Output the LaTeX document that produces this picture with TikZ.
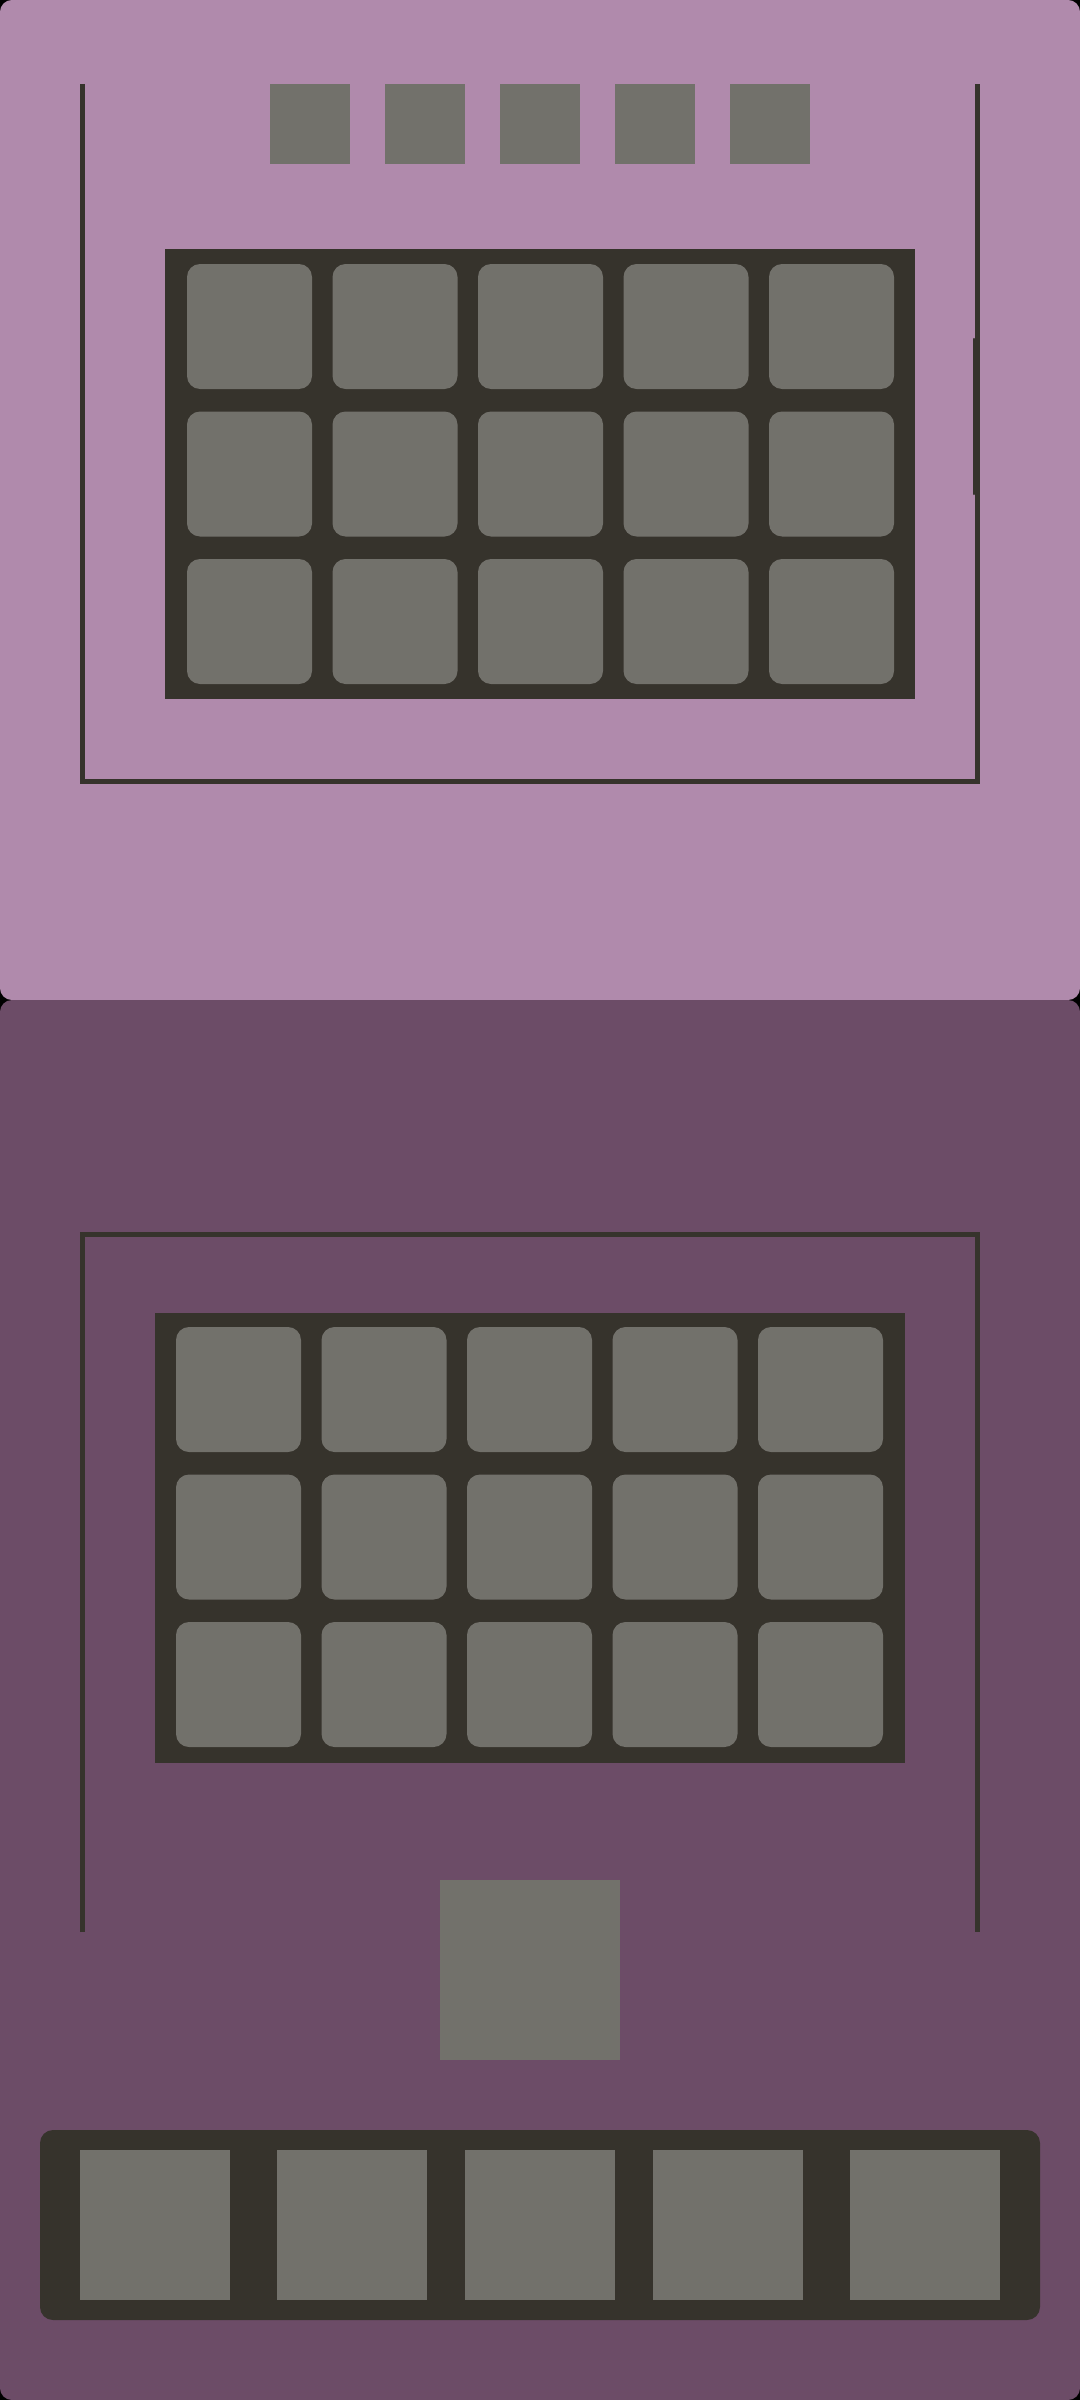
\documentclass[tikz,border=0pt]{standalone}
\usetikzlibrary{positioning}
\definecolor{PanelLight}{HTML}{B08AAC}
\definecolor{PanelDark}{HTML}{6C4C67}
\definecolor{TrayDark}{HTML}{36332C}
\definecolor{TileGray}{HTML}{72716B}
\tikzset{
  panel/.style={rounded corners=3.4pt},
  tray/.style={fill=TrayDark},
  tile/.style={fill=TileGray, rounded corners=3.7pt},
  slot/.style={fill=TileGray},
  frame/.style={draw=TrayDark, line width=1.42pt}
}
\begin{document}
\begin{tikzpicture}[x=0.01cm,y=-0.01cm]
\useasboundingbox (0,0) rectangle (1080,2400);
\fill[black] (0,0) rectangle (1080,2400);

% upper panel
\fill[PanelLight, panel] (0,0) rectangle (1080,1000);
\draw[frame] (82.5,84) -- (82.5,781.5) -- (977.5,781.5) -- (977.5,84);
\draw[TrayDark, line width=0.6pt, line cap=round] (974,339) -- (974,494);
\foreach \c in {0,...,4}
  \fill[slot] ({270+115*\c},84) rectangle +(80,80);
\fill[tray] (165,249) rectangle (915,699);
\foreach \r in {0,1,2}
  \foreach \c in {0,...,4}
    \fill[tile] ({187+145.5*\c},{264+147.5*\r}) rectangle +(125,125);

% lower panel
\fill[PanelDark, panel] (0,1000) rectangle (1080,2400);
\draw[frame] (82.5,1932) -- (82.5,1234.5) -- (977.5,1234.5) -- (977.5,1932);
\fill[tray] (155,1313) rectangle (905,1763);
\foreach \r in {0,1,2}
  \foreach \c in {0,...,4}
    \fill[tile] ({176+145.5*\c},{1327+147.5*\r}) rectangle +(125,125);
\fill[slot] (440,1880) rectangle +(180,180);
\fill[tray, rounded corners=3.7pt] (40,2130) rectangle (1040,2320);
\foreach \x in {80,277,465,653,850}
  \fill[slot] (\x,2150) rectangle +(150,150);
\end{tikzpicture}
\end{document}
